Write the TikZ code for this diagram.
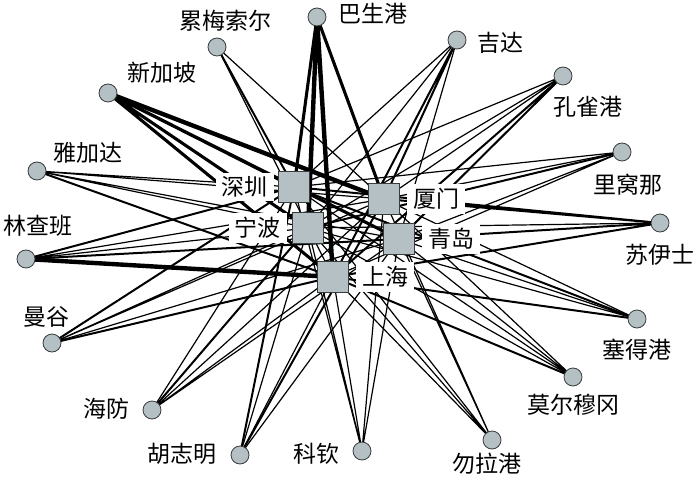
\documentclass[tikz,border=0pt]{standalone}
\usepackage{fontspec}
\newfontfamily\cjk{Noto Sans CJK SC}
\usetikzlibrary{positioning,backgrounds}
\definecolor{portgray}{RGB}{180,192,195}
\definecolor{rimgray}{RGB}{55,60,62}

\begin{document}
\begin{tikzpicture}[x=1pt, y=-1pt, font=\cjk\fontsize{23}{26}\selectfont]
      \tikzstyle{port}=[circle,draw=rimgray,line width=0.8pt,fill=portgray,minimum size=18pt,inner sep=0pt]
      \tikzstyle{hub}=[rectangle,draw=rimgray,line width=0.9pt,fill=portgray,minimum size=31pt,inner sep=0pt]
      \tikzstyle{lab}=[fill=white,inner sep=1pt]
      \tikzstyle{hublab}=[fill=white,inner xsep=6pt,inner ysep=4pt]
      \tikzstyle{e1}=[line width=1.2pt]
      \tikzstyle{e2}=[line width=2pt]
      \tikzstyle{e3}=[line width=3.1pt]
      \tikzstyle{e4}=[line width=4.4pt]
      \useasboundingbox (0,0) rectangle (700,478);
      % hubs
      \node[hub] (sz) at (294,187) {};
      \node[hub] (nb) at (308,228) {};
      \node[hub] (xm) at (384,199) {};
      \node[hub] (qd) at (399,239) {};
      \node[hub] (sh) at (333,277) {};
      \node[hublab,left=4pt of sz] (szl) {深圳};
      \node[hublab,left=5pt of nb] (nbl) {宁波};
      \node[hublab,right=7pt of xm] (xml) {厦门};
      \node[hublab,right=7pt of qd] (qdl) {青岛};
      \node[hublab,right=7pt of sh] (shl) {上海};
      % foreign and local ports
      \node[port] (bsg) at (317,17) {};
      \node[port] (lms) at (217,47) {};
      \node[port] (xjp) at (108,93) {};
      \node[port] (jkt) at (37,171) {};
      \node[port] (lcb) at (26,259) {};
      \node[port] (mg) at (52,343) {};
      \node[port] (hf) at (152,410) {};
      \node[port] (hzm) at (240,455) {};
      \node[port] (kq) at (362,451) {};
      \node[port] (wlg) at (492,440) {};
      \node[port] (mem) at (573,377) {};
      \node[port] (sdg) at (637,319) {};
      \node[port] (syz) at (660,223) {};
      \node[port] (lwn) at (622,152) {};
      \node[port] (kqg) at (563,76) {};
      \node[port] (jd) at (457,40) {};
      \node[lab,right=11pt of bsg,yshift=3pt] (bsgl) {巴生港};
      \node[lab,above=5pt of lms,xshift=8pt] (lmsl) {累梅索尔};
      \node[lab,above right=2pt and 12pt of xjp] (xjpl) {新加坡};
      \node[lab,above right=0pt and 9pt of jkt] (jktl) {雅加达};
      \node[lab,above=12pt of lcb,xshift=12pt] (lcbl) {林查班};
      \node[lab,above=5pt of mg,xshift=-6pt] (mgl) {曼谷};
      \node[lab,left=12pt of hf,yshift=1pt] (hfl) {海防};
      \node[lab,left=13pt of hzm,yshift=1pt] (hzml) {胡志明};
      \node[lab,left=12pt of kq,yshift=-3pt] (kql) {科钦};
      \node[lab,below=2pt of wlg,xshift=-5pt] (wlgl) {勿拉港};
      \node[lab,below=7pt of mem] (meml) {莫尔穆冈};
      \node[lab,below=9pt of sdg] (sdgl) {塞得港};
      \node[lab,below=11pt of syz] (syzl) {苏伊士};
      \node[lab,below=11pt of lwn,xshift=6pt] (lwnl) {里窝那};
      \node[lab,below=10pt of kqg,xshift=25pt] (kqgl) {孔雀港};
      \node[lab,right=10pt of jd,yshift=-3pt] (jdl) {吉达};
      % routes
      \begin{scope}[on background layer]
      \draw[e3] (bsg.center) -- (sz.center) (bsg.center) -- (xm.center);
      \draw[e4] (bsg.center) -- (nb.center) (bsg.center) -- (sh.center);
      \draw[e2] (lms.center) -- (sz.center);
      \draw[e1] (lms.center) -- (xm.center) (lms.center) -- (sh.center);
      \draw[e3] (xjp.center) -- (sz.center) (xjp.center) -- (nb.center) (xjp.center) -- (sh.center) (xjp.center) -- (qd.center);
      \draw[e4] (xjp.center) -- (xm.center);
      \draw[e1] (jkt.center) -- (sz.center) (jkt.center) -- (nb.center) (jkt.center) -- (qd.center) (jkt.center) -- (xm.center);
      \draw[e2] (jkt.center) -- (sh.center);
      \draw[e2] (lcb.center) -- (sz.center) (lcb.center) -- (qd.center);
      \draw[e1] (lcb.center) -- (nb.center) (lcb.center) -- (xm.center);
      \draw[e4] (lcb.center) -- (sh.center);
      \draw[e2] (mg.center) -- (sz.center) (mg.center) -- (sh.center);
      \draw[e1] (mg.center) -- (nb.center) (mg.center) -- (qd.center) (mg.center) -- (xm.center);
      \draw[e2] (hf.center) -- (nb.center);
      \draw[e1] (hf.center) -- (sz.center) (hf.center) -- (sh.center) (hf.center) -- (qd.center) (hf.center) -- (xm.center);
      \draw[e2] (hzm.center) -- (sz.center) (hzm.center) -- (xm.center);
      \draw[e1] (hzm.center) -- (nb.center) (hzm.center) -- (sh.center) (hzm.center) -- (qd.center);
      \draw[e1] (kq.center) -- (sz.center) (kq.center) -- (nb.center) (kq.center) -- (sh.center) (kq.center) -- (qd.center) (kq.center) -- (xm.center);
      \draw[e1] (wlg.center) -- (sz.center) (wlg.center) -- (nb.center) (wlg.center) -- (sh.center) (wlg.center) -- (qd.center) (wlg.center) -- (xm.center);
      \draw[e2] (mem.center) -- (sh.center);
      \draw[e1] (mem.center) -- (sz.center) (mem.center) -- (nb.center) (mem.center) -- (qd.center) (mem.center) -- (xm.center);
      \draw[e2] (sdg.center) -- (sz.center) (sdg.center) -- (sh.center);
      \draw[e1] (sdg.center) -- (nb.center) (sdg.center) -- (qd.center) (sdg.center) -- (xm.center);
      \draw[e2] (syz.center) -- (sz.center) (syz.center) -- (sh.center) (syz.center) -- (qd.center) (syz.center) -- (xm.center);
      \draw[e1] (syz.center) -- (nb.center);
      \draw[e2] (lwn.center) -- (nb.center);
      \draw[e1] (lwn.center) -- (sz.center) (lwn.center) -- (sh.center) (lwn.center) -- (qd.center) (lwn.center) -- (xm.center);
      \draw[e2] (kqg.center) -- (sh.center) (kqg.center) -- (qd.center);
      \draw[e1] (kqg.center) -- (sz.center) (kqg.center) -- (nb.center) (kqg.center) -- (xm.center);
      \draw[e2] (jd.center) -- (sh.center) (jd.center) -- (xm.center);
      \draw[e1] (jd.center) -- (sz.center) (jd.center) -- (nb.center) (jd.center) -- (qd.center);
      \end{scope}

    \end{tikzpicture}
\end{document}
